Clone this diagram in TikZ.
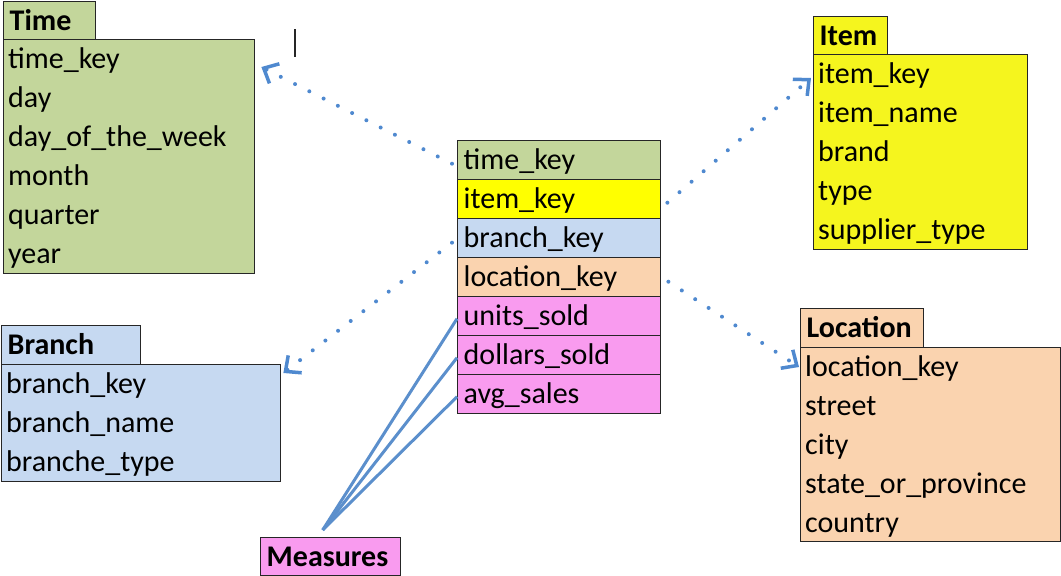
\documentclass[tikz,border=0pt]{standalone}
\usepackage{fontspec}
\setmainfont{Carlito}
\usetikzlibrary{arrows.meta}
\definecolor{tgreen}{HTML}{C3D69B}
\definecolor{cyellow}{HTML}{FFFF00}
\definecolor{iyellow}{HTML}{F5F51E}
\definecolor{bblue}{HTML}{C6D9F1}
\definecolor{lorange}{HTML}{FAD3AF}
\definecolor{mpink}{HTML}{F99BEF}
\definecolor{lnblue}{HTML}{5B8FCC}
\definecolor{dotblue}{HTML}{4F89CF}
\begin{document}
\begin{tikzpicture}[x=1pt,y=-1pt,
  outline/.style={draw=black!85, line width=1.4pt, anchor=north west, inner sep=0pt},
  tabbox/.style={outline, inner xsep=6pt, text height=24pt, text depth=5pt,
     font=\fontsize{30}{36}\selectfont\bfseries, align=left},
  bodybox/.style={outline},
  field/.style={anchor=west, inner xsep=5pt, inner ysep=0pt, text height=24pt,
     text depth=5pt, font=\fontsize{30}{36}\selectfont, align=left},
  factrow/.style={outline, inner xsep=6pt, inner ysep=0pt, text width=191pt,
     minimum height=39pt, text height=24pt, text depth=5pt,
     font=\fontsize{30}{36}\selectfont, align=left},
  fklink/.style={draw=dotblue, line width=4pt, line cap=round,
     dash pattern=on 0pt off 16pt,
     -{Straight Barb[length=12pt,width=22pt,line width=3.5pt]}},
  measlink/.style={draw=lnblue, line width=3pt}
]
\useasboundingbox (0,0) rectangle (1061,576);

% ---------- Time ----------
\node[tabbox, fill=tgreen, minimum height=38pt, text width=80pt] (timetab) at (3,1) {Time};
\node[bodybox, fill=tgreen, minimum width=251pt, minimum height=234pt] (timebody) at (3,39) {};
\node[field] (t1) at (3,58.5) {time\_key};
\node[field] (t2) at (3,97.5) {day};
\node[field] (t3) at (3,136.5) {day\_of\_the\_week};
\node[field] (t4) at (3,175.5) {month};
\node[field] (t5) at (3,214.5) {quarter};
\node[field] (t6) at (3,253.5) {year};

% ---------- Item ----------
\node[tabbox, fill=iyellow, minimum height=38pt, text width=62pt] (itemtab) at (813,16) {Item};
\node[bodybox, fill=iyellow, minimum width=214pt, minimum height=195pt] (itembody) at (813,54) {};
\node[field] (i1) at (813,73.5) {item\_key};
\node[field] (i2) at (813,112.5) {item\_name};
\node[field] (i3) at (813,151.5) {brand};
\node[field] (i4) at (813,190.5) {type};
\node[field] (i5) at (813,229.5) {supplier\_type};

% ---------- Location ----------
\node[tabbox, fill=lorange, minimum height=39pt, text width=111pt] (loctab) at (800,308) {Location};
\node[bodybox, fill=lorange, minimum width=260pt, minimum height=194pt] (locbody) at (800,347) {};
\node[field] (l1) at (800,366.5) {location\_key};
\node[field] (l2) at (800,405.5) {street};
\node[field] (l3) at (800,444.5) {city};
\node[field] (l4) at (800,483.5) {state\_or\_province};
\node[field] (l5) at (800,522.5) {country};

% ---------- Branch ----------
\node[tabbox, fill=bblue, minimum height=39pt, text width=127pt] (brtab) at (1,325) {Branch};
\node[bodybox, fill=bblue, minimum width=279pt, minimum height=117pt] (brbody) at (1,364) {};
\node[field] (b1) at (1,383.5) {branch\_key};
\node[field] (b2) at (1,422.5) {branch\_name};
\node[field] (b3) at (1,461.5) {branche\_type};

% ---------- Fact table ----------
\node[factrow, fill=tgreen]   (c1) at (457,140) {time\_key};
\node[factrow, fill=cyellow]  (c2) at (457,179) {item\_key};
\node[factrow, fill=bblue]    (c3) at (457,218) {branch\_key};
\node[factrow, fill=lorange]  (c4) at (457,257) {location\_key};
\node[factrow, fill=mpink]    (c5) at (457,296) {units\_sold};
\node[factrow, fill=mpink]    (c6) at (457,335) {dollars\_sold};
\node[factrow, fill=mpink]    (c7) at (457,374) {avg\_sales};

% ---------- Measures ----------
\node[tabbox, fill=mpink, minimum height=38pt, text width=128pt] (meas) at (260,537) {Measures};

% ---------- connectors ----------
\draw[fklink] ([shift={(-5,3.5)}]c1.west) -- ([shift={(6,28)}]timebody.north east);
\draw[fklink] ([shift={(6,3.5)}]c2.east) -- ([shift={(-2,24)}]itembody.north west);
\draw[fklink] ([shift={(-5,4.5)}]c3.west) -- ([shift={(2,9)}]brbody.north east);
\draw[fklink] ([shift={(7,4.5)}]c4.east) -- ([shift={(-1,20)}]locbody.north west);

\coordinate (mtop) at ([shift={(-8,-7)}]meas.north);
\draw[measlink] (mtop) -- ([shift={(0,2.5)}]c5.west);
\draw[measlink] (mtop) -- ([shift={(0,2.5)}]c6.west);
\draw[measlink] (mtop) -- ([shift={(0,2.5)}]c7.west);

% stray cursor mark
\draw[line width=1.3pt, black!85] (295,29) -- (295,57);
\end{tikzpicture}
\end{document}
